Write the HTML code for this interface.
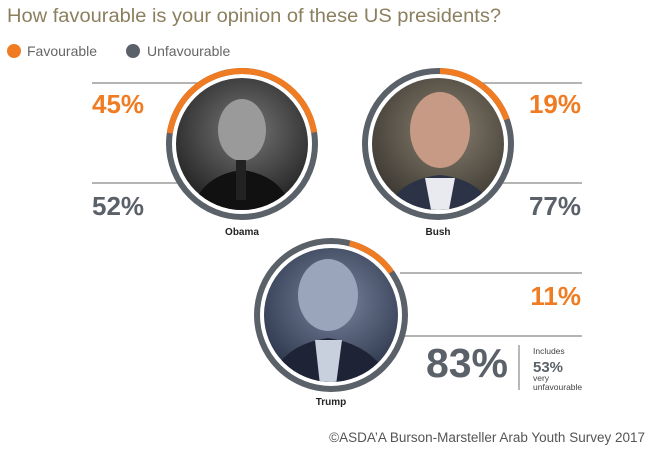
<!DOCTYPE html>
<html><head><meta charset="utf-8"><style>
html,body{margin:0;padding:0;background:#fff;}
svg{display:block;font-family:"Liberation Sans",sans-serif;}
</style></head><body>
<svg width="655" height="451" viewBox="0 0 655 451" xmlns="http://www.w3.org/2000/svg">
<defs>
<radialGradient id="gO" cx="50%" cy="40%" r="60%"><stop offset="0" stop-color="#777"/><stop offset="1" stop-color="#1e1e1e"/></radialGradient>
<radialGradient id="gB" cx="50%" cy="40%" r="60%"><stop offset="0" stop-color="#8a8170"/><stop offset="1" stop-color="#3a3630"/></radialGradient>
<radialGradient id="gT" cx="50%" cy="40%" r="60%"><stop offset="0" stop-color="#7a86a0"/><stop offset="1" stop-color="#2a3348"/></radialGradient>
<clipPath id="cO"><circle cx="242" cy="144" r="66"/></clipPath>
<clipPath id="cB"><circle cx="438" cy="144" r="66"/></clipPath>
<clipPath id="cT"><circle cx="331" cy="315" r="67"/></clipPath>
</defs>
<text x="7" y="22" font-size="19" fill="#8b7f5e" textLength="494" lengthAdjust="spacingAndGlyphs">How favourable is your opinion of these US presidents?</text>
<circle cx="14" cy="51" r="7" fill="#ef7b22"/>
<text x="27" y="56" font-size="14" fill="#666">Favourable</text>
<circle cx="133" cy="51" r="7" fill="#5b6169"/>
<text x="147" y="56" font-size="14" fill="#666">Unfavourable</text>

<g stroke="#888" stroke-width="1.2">
<line x1="92" y1="83" x2="205" y2="83"/><line x1="92" y1="183" x2="178" y2="183"/>
<line x1="478" y1="83" x2="582" y2="83"/><line x1="500" y1="183" x2="582" y2="183"/>
<line x1="400" y1="273" x2="582" y2="273"/><line x1="402" y1="336" x2="582" y2="336"/>
<line x1="519" y1="345" x2="519" y2="390"/>
</g>

<!-- Obama -->
<circle cx="242" cy="144" r="73" fill="#fff" stroke="#5b6169" stroke-width="6"/>
<circle cx="242" cy="144" r="73" fill="none" stroke="#ef7b22" stroke-width="6" pathLength="100" stroke-dasharray="45 55" transform="rotate(-171 242 144)"/>
<g clip-path="url(#cO)"><rect x="170" y="74" width="150" height="140" fill="url(#gO)"/>
<ellipse cx="242" cy="130" rx="24" ry="31" fill="#9a9a9a"/><path d="M190 215 Q200 175 242 170 Q284 175 294 215Z" fill="#111"/><rect x="236" y="160" width="10" height="40" fill="#222"/></g>
<!-- Bush -->
<circle cx="438" cy="144" r="73" fill="#fff" stroke="#5b6169" stroke-width="6"/>
<circle cx="438" cy="144" r="73" fill="none" stroke="#ef7b22" stroke-width="6" pathLength="100" stroke-dasharray="19 81" transform="rotate(-88 438 144)"/>
<g clip-path="url(#cB)"><rect x="370" y="74" width="150" height="140" fill="url(#gB)"/>
<ellipse cx="440" cy="130" rx="30" ry="38" fill="#c79a86"/><path d="M386 215 Q395 180 440 175 Q485 180 494 215Z" fill="#2c3347"/><path d="M425 178 L455 178 L448 215 L432 215Z" fill="#e8eaf0"/></g>
<!-- Trump -->
<circle cx="331" cy="315" r="74" fill="#fff" stroke="#5b6169" stroke-width="6"/>
<circle cx="331" cy="315" r="74" fill="none" stroke="#ef7b22" stroke-width="6" pathLength="100" stroke-dasharray="11 89" transform="rotate(-75 331 315)"/>
<g clip-path="url(#cT)"><rect x="260" y="245" width="150" height="140" fill="url(#gT)"/>
<ellipse cx="328" cy="295" rx="30" ry="36" fill="#9aa4bb"/><path d="M268 385 Q280 345 328 338 Q376 345 392 385Z" fill="#1e2436"/><path d="M315 340 L342 340 L336 385 L320 385Z" fill="#c8cfdd"/></g>

<g font-weight="bold" font-size="26">
<text x="92" y="113" fill="#ef7b22">45%</text>
<text x="92" y="215" fill="#5b6169">52%</text>
<text x="581" y="113" fill="#ef7b22" text-anchor="end">19%</text>
<text x="581" y="215" fill="#5b6169" text-anchor="end">77%</text>
<text x="581" y="305" fill="#ef7b22" text-anchor="end">11%</text>
<text x="508" y="377" fill="#5b6169" text-anchor="end" font-size="41">83%</text>
</g>
<text x="533" y="354" font-size="8.5" fill="#444">Includes</text>
<text x="533" y="372" font-size="15" font-weight="bold" fill="#5b6169">53%</text>
<text x="533" y="381" font-size="8.5" fill="#444">very</text>
<text x="533" y="390" font-size="8.5" fill="#444">unfavourable</text>
<g font-size="10" font-weight="bold" fill="#222" text-anchor="middle">
<text x="242" y="235">Obama</text><text x="438" y="235">Bush</text><text x="331" y="405">Trump</text>
</g>
<text x="645" y="442" font-size="13.5" fill="#555" text-anchor="end">©ASDA’A Burson-Marsteller Arab Youth Survey 2017</text>
</svg>
</body></html>
